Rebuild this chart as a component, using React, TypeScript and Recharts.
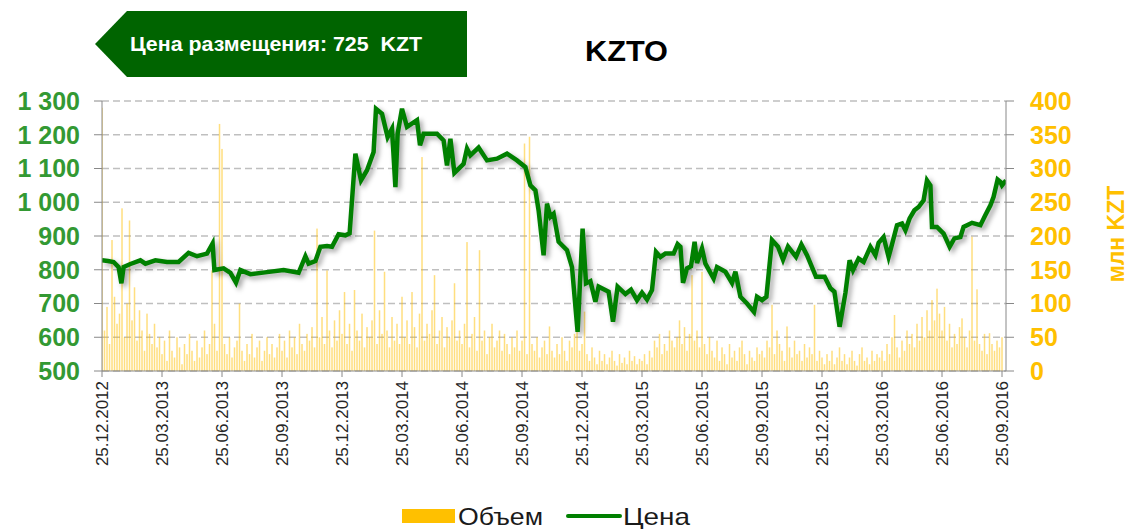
import React from "react";
import { ComposedChart, Bar, Line, XAxis, YAxis, CartesianGrid } from "recharts";

// ось X: месяцы от 25.12.2012
const TICK_LABELS = [
  "25.12.2012", "25.03.2013", "25.06.2013", "25.09.2013",
  "25.12.2013", "25.03.2014", "25.06.2014", "25.09.2014",
  "25.12.2014", "25.03.2015", "25.06.2015", "25.09.2015",
  "25.12.2015", "25.03.2016", "25.06.2016", "25.09.2016",
];
const TICK_MONTHS = [0, 3, 6, 9, 12, 15, 18, 21, 24, 27, 30, 33, 36, 39, 42, 45];

const PRICE_TICKS = [500, 600, 700, 800, 900, 1000, 1100, 1200, 1300];
const VOLUME_TICKS = [0, 50, 100, 150, 200, 250, 300, 350, 400];

// Цена, KZT
const PRICE_MONTHS = [
  0, 0.3, 0.58, 0.83, 0.97, 1.08, 1.42, 1.92, 2.17, 2.67, 3.25, 3.83, 4.33, 4.75, 5.25, 5.53, 5.62,
  6.08, 6.42, 6.7, 6.92, 7.42, 8.25, 9.08, 9.83, 10.17, 10.33, 10.67, 10.92, 11.25, 11.5, 11.83,
  12.17, 12.38, 12.67, 12.95, 13.25, 13.58, 13.7, 14.0, 14.28, 14.5, 14.67, 14.78, 15.0, 15.25,
  15.75, 15.9, 16.08, 16.75, 17.08, 17.25, 17.42, 17.62, 18.08, 18.25, 18.42, 18.83, 19.25, 19.75,
  20.25, 20.75, 21.17, 21.42, 21.67, 21.83, 22.08, 22.25, 22.42, 22.58, 22.83, 23.25, 23.5, 23.78,
  24.03, 24.2, 24.42, 24.67, 24.83, 25.33, 25.55, 25.78, 26.17, 26.45, 26.75, 27.0, 27.25, 27.5,
  27.7, 27.92, 28.17, 28.58, 28.78, 28.92, 29.05, 29.25, 29.45, 29.63, 29.75, 30.0, 30.17, 30.58,
  30.75, 31.17, 31.5, 31.67, 31.92, 32.25, 32.6, 32.75, 33.0, 33.22, 33.5, 33.8, 34.05, 34.3, 34.7,
  34.97, 35.25, 35.7, 36.13, 36.42, 36.62, 36.88, 37.17, 37.38, 37.55, 37.83, 38.08, 38.42, 38.67,
  38.83, 39.08, 39.33, 39.5, 39.75, 40.0, 40.17, 40.38, 40.62, 40.83, 41.08, 41.25, 41.42, 41.5,
  41.75, 42.08, 42.38, 42.62, 42.92, 43.08, 43.5, 43.92, 44.17, 44.42, 44.58, 44.78, 44.92, 45.0, 45.2,
];
const PRICE = [
  828, 826, 823, 808, 760, 808, 817, 828, 818, 828, 823, 823, 850, 840, 848, 878, 799,
  804, 791, 762, 799, 787, 793, 799, 791, 840, 818, 826, 868, 870, 868, 905,
  902, 908, 1144, 1065, 1095, 1149, 1277, 1262, 1193, 1218, 1045, 1203, 1277, 1223,
  1243, 1169, 1203, 1203, 1183, 1109, 1188, 1087, 1114, 1159, 1139, 1162, 1124, 1129,
  1144, 1124, 1104, 1050, 1035, 976, 843, 996, 957, 966, 883, 858, 808, 616,
  922, 760, 766, 705, 750, 735, 646, 750, 728, 741, 710, 732, 712, 740,
  853, 838, 848, 848, 876, 868, 761, 804, 810, 883, 820, 863, 818, 774,
  808, 794, 761, 794, 720, 700, 675, 720, 710, 720, 888, 868, 830, 869, 838,
  875, 843, 779, 779, 745, 735, 631, 731, 828, 799, 833, 823, 868, 843,
  880, 897, 838, 875, 932, 937, 917, 952, 976, 986, 1006, 1065, 1050, 927,
  927, 907, 868, 893, 897, 927, 939, 932, 962, 991, 1016, 1067, 1060, 1050, 1065,
];

// Объем, млн KZT (шаг 1/8 месяца)
const VOLUME_STEP = 0.125;
const VOLUME = [
  390, 60, 95, 40, 194, 110, 70, 85, 241, 50, 100, 223, 75, 124, 45, 90, 60, 30, 85, 55, 40, 70, 35, 50,
  25, 45, 15, 60, 30, 20, 50, 35, 10, 40, 25, 55, 30, 15, 45, 20, 35, 60, 25, 40, 149, 70, 30, 366,
  329, 40, 25, 50, 20, 35, 45, 100, 30, 15, 40, 25, 55, 20, 35, 45, 15, 30, 50, 25, 40, 20, 35, 55,
  30, 45, 20, 60, 35, 50, 25, 70, 40, 30, 55, 45, 65, 35, 211, 50, 80, 40, 149, 60, 35, 75, 45, 90,
  55, 117, 40, 70, 30, 120, 60, 45, 85, 35, 65, 50, 75, 208, 40, 90, 55, 147, 60, 35, 80, 45, 70, 40,
  110, 50, 75, 40, 117, 65, 35, 85, 317, 45, 70, 55, 90, 142, 40, 60, 80, 35, 65, 50, 75, 130, 45, 60,
  40, 70, 191, 35, 55, 80, 30, 179, 45, 60, 25, 50, 70, 35, 45, 60, 30, 55, 40, 25, 50, 35, 60, 30,
  45, 337, 25, 347, 40, 30, 50, 20, 35, 45, 25, 66, 30, 20, 40, 25, 50, 30, 15, 45, 35, 55, 60, 30,
  40, 88, 25, 15, 35, 20, 10, 30, 15, 25, 10, 20, 30, 15, 8, 25, 12, 20, 10, 30, 15, 22, 10, 18,
  15, 25, 10, 30, 20, 45, 35, 55, 25, 40, 30, 60, 45, 35, 50, 75, 40, 65, 30, 55, 142, 45, 60, 35,
  147, 40, 25, 50, 30, 20, 45, 15, 35, 25, 10, 40, 20, 30, 15, 35, 45, 25, 10, 30, 20, 15, 35, 25,
  30, 20, 45, 35, 98, 25, 60, 40, 30, 15, 66, 35, 20, 45, 25, 30, 15, 40, 20, 35, 25, 98, 15, 30,
  20, 10, 25, 15, 30, 10, 20, 35, 15, 25, 10, 20, 30, 15, 8, 25, 35, 15, 20, 10, 30, 15, 25, 20,
  30, 15, 40, 25, 50, 83, 35, 20, 45, 30, 60, 40, 55, 35, 70, 45, 80, 50, 90, 60, 105, 75, 122, 85,
  60, 95, 45, 70, 35, 55, 40, 65, 78, 50, 35, 60, 199, 45, 121, 40, 30, 55, 25, 56, 40, 30, 45, 35,
  50,
];

const rows: { m: number; price?: number; vol?: number }[] = [
  ...PRICE_MONTHS.map((m, i) => ({ m, price: PRICE[i] })),
  ...VOLUME.map((v, i) => ({ m: i * VOLUME_STEP, vol: v })),
].sort((a, b) => a.m - b.m);

const FONT = "'Liberation Sans', Arial, sans-serif";
const GREEN = "#008000";
const YELLOW = "#FFC000";

const fmtPrice = (v: number) =>
  v >= 1000 ? `${Math.floor(v / 1000)} ${String(v % 1000).padStart(3, "0")}` : String(v);

const DateTick = (props: any) => {
  const { x, y, payload } = props;
  const idx = TICK_MONTHS.indexOf(payload.value);
  return (
    <text
      transform={`translate(${x + 6},${y + 1}) rotate(-90)`}
      textAnchor="end"
      fontSize={17}
      fill="#262626"
      fontFamily={FONT}
    >
      {TICK_LABELS[idx]}
    </text>
  );
};

// тонкий столбик фиксированной ширины (ось X числовая)
const VolBar = (props: any) => {
  const { x, y, height, payload } = props;
  if (payload == null || payload.vol == null || !isFinite(y) || !isFinite(height) || height <= 0) return null;
  return <rect x={x - 0.7} y={y} width={1.5} height={height} fill={YELLOW} fillOpacity={0.5} />;
};

export default function App() {
  return (
    <div style={{ position: "absolute", left: 0, top: 0, width: 1130, height: 529, background: "#fff", fontFamily: FONT }}>
      <style>{`.price-line .recharts-line-curve { filter: drop-shadow(3px 3px 2.5px rgba(0,0,0,0.35)); }`}</style>
      <ComposedChart width={1130} height={529} data={rows} margin={{ top: 101, right: 0, bottom: 0, left: 0 }}>
        <CartesianGrid yAxisId="price" vertical={false} stroke="#BFBFBF" strokeDasharray="7 4" strokeWidth={1.3} />
        <XAxis
          dataKey="m"
          type="number"
          domain={[0, 45.2]}
          ticks={TICK_MONTHS}
          interval={0}
          height={158}
          tick={<DateTick />}
          tickSize={6}
          tickMargin={3}
          stroke="#888"
          allowDataOverflow
        />
        <YAxis
          yAxisId="price"
          domain={[500, 1300]}
          ticks={PRICE_TICKS}
          interval={0}
          width={102}
          tickSize={8}
          tickMargin={14}
          tickFormatter={fmtPrice}
          stroke="#888"
          tick={{ fill: "#339933", fontSize: 25, fontWeight: "bold", fontFamily: FONT }}
        />
        <YAxis
          yAxisId="vol"
          orientation="right"
          domain={[0, 400]}
          ticks={VOLUME_TICKS}
          interval={0}
          width={124}
          tickSize={8}
          tickMargin={16}
          stroke="#888"
          tick={{ fill: YELLOW, fontSize: 25, fontWeight: "bold", fontFamily: FONT }}
        />
        <Bar yAxisId="vol" dataKey="vol" fill={YELLOW} shape={<VolBar />} isAnimationActive={false} />
        <Line
          className="price-line"
          yAxisId="price"
          dataKey="price"
          type="linear"
          stroke={GREEN}
          strokeWidth={4.5}
          dot={false}
          activeDot={false}
          connectNulls
          isAnimationActive={false}
        />
      </ComposedChart>

      <svg width={1130} height={529} style={{ position: "absolute", left: 0, top: 0, pointerEvents: "none" }}>
        <polygon points="95,44 127,11 467,11 467,77 127,77" fill="#006400" />
        <text x={130} y={51} fontSize={20} fontWeight="bold" fill="#fff" fontFamily={FONT} textLength={292} lengthAdjust="spacingAndGlyphs">
          {"Цена размещения: 725\u00a0\u00a0KZT"}
        </text>
        <text x={585} y={61} fontSize={29} fontWeight="bold" fill="#000" fontFamily={FONT} textLength={83} lengthAdjust="spacingAndGlyphs">
          KZTO
        </text>
        <text transform="translate(1124,234) rotate(-90)" textAnchor="middle" fontSize={23} fontWeight="bold" fill={YELLOW} fontFamily={FONT}>
          млн KZT
        </text>
        <rect x={402} y={509} width={53} height={14} fill={YELLOW} />
        <text x={458} y={525} fontSize={24} fill="#1a1a1a" fontFamily={FONT} textLength={85} lengthAdjust="spacingAndGlyphs">Объем</text>
        <line x1={568} y1={516} x2={620} y2={516} stroke={GREEN} strokeWidth={4} strokeLinecap="round" />
        <text x={623} y={525} fontSize={24} fill="#1a1a1a" fontFamily={FONT} textLength={67} lengthAdjust="spacingAndGlyphs">Цена</text>
      </svg>
    </div>
  );
}
